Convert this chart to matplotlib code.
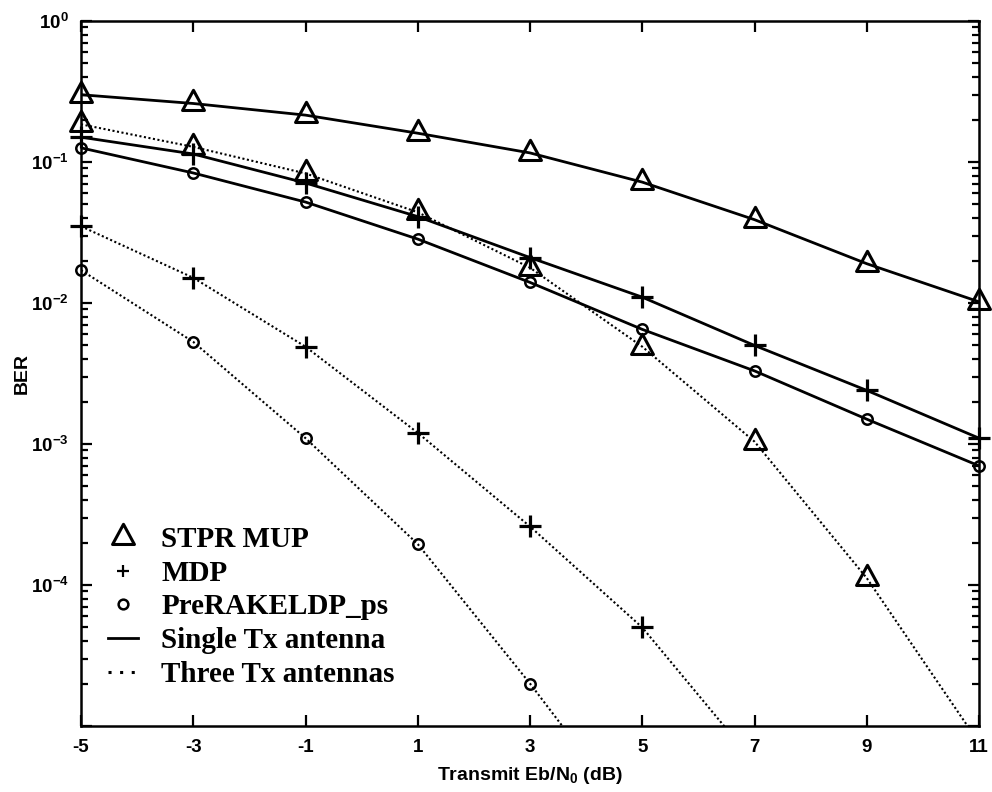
import matplotlib
matplotlib.use('Agg')
import matplotlib.pyplot as plt
from matplotlib.lines import Line2D
from matplotlib.path import Path
from matplotlib.font_manager import FontProperties
from matplotlib.ticker import FixedLocator, FixedFormatter, NullFormatter
import numpy as np

plt.rcParams['font.family'] = ['Liberation Sans', 'DejaVu Sans']
plt.rcParams['font.weight'] = 'bold'
plt.rcParams['mathtext.fontset'] = 'custom'
plt.rcParams['mathtext.rm'] = 'Liberation Sans:bold'
plt.rcParams['mathtext.bf'] = 'Liberation Sans:bold'
plt.rcParams['mathtext.it'] = 'Liberation Sans:bold'
plt.rcParams['axes.unicode_minus'] = False

# ---------------- data ----------------
snr = [-5, -3, -1, 1, 3, 5, 7, 9, 11]
stpr_single = [0.30, 0.26, 0.215, 0.16, 0.116, 0.072, 0.039, 0.019, 0.0102]
mdp_single = [0.150, 0.114, 0.071, 0.041, 0.021, 0.011, 0.0050, 0.0024, 0.0011]
pre_single = [0.126, 0.0836, 0.052, 0.0284, 0.014, 0.0065, 0.0033, 0.0015, 0.0007]
stpr_three = [0.185, 0.128, 0.083, 0.044, 0.0178, 0.0049, 0.00104, 0.000112, 7.6e-6]
mdp_three = [0.035, 0.0151, 0.0049, 0.0012, 0.00026, 5.0e-5, 5.5e-6]
pre_three = [0.0171, 0.0053, 0.0011, 0.000195, 2.0e-5, 1.8e-6]

xticks = [-5, -3, -1, 1, 3, 5, 7, 9, 11]
xticklabels = ['-5', '-3', '-1', '1', '3', '5', '7', '9', '11']
yticks = [1e0, 1e-1, 1e-2, 1e-3, 1e-4, 1e-5]
yticklabels = [r'$10^{0}$', r'$10^{-1}$', r'$10^{-2}$', r'$10^{-3}$', r'$10^{-4}$', '']
legend_labels = ['STPR MUP', 'MDP', 'PreRAKELDP_ps', 'Single Tx antenna', 'Three Tx antennas']

YMIN, YMAX = 1e-5, 1e0

# triangle marker centred on its centroid (like MATLAB)
tri = Path([(0, 1), (-0.83, -0.53), (0.83, -0.53), (0, 1)],
           [Path.MOVETO, Path.LINETO, Path.LINETO, Path.CLOSEPOLY])

fig = plt.figure(figsize=(9.92, 7.92), dpi=100)
ax = fig.add_axes([81/992, 1-726/792, (979-81)/992, (726-21)/792])

solid = dict(color='k', lw=2.0, ls='-')
dotted = dict(color='k', lw=1.5, ls=(0, (1, 1.2)))
tri_kw = dict(marker=tri, ms=19, mew=2.2, mfc='none', mec='k')
plus_kw = dict(marker='+', ms=16, mew=2.3, mec='k')
circ_kw = dict(marker='o', ms=7.5, mew=1.8, mfc='none', mec='k')

series = [
    (snr, stpr_single, solid, tri_kw),
    (snr, mdp_single, solid, plus_kw),
    (snr, pre_single, solid, circ_kw),
    (snr, stpr_three, dotted, tri_kw),
    (snr[:len(mdp_three)], mdp_three, dotted, plus_kw),
    (snr[:len(pre_three)], pre_three, dotted, circ_kw),
]
for xs, ys, lkw, mkw in series:
    ax.semilogy(xs, ys, **lkw)
    xs_v = [a for a, b in zip(xs, ys) if b >= YMIN]
    ys_v = [b for b in ys if b >= YMIN]
    ax.semilogy(xs_v, ys_v, ls='none', clip_on=False, zorder=3, **mkw)

ax.set_xlim(-5, 11)
ax.set_ylim(YMIN, YMAX)
ax.xaxis.set_major_locator(FixedLocator(xticks))
ax.xaxis.set_major_formatter(FixedFormatter(xticklabels))
ax.yaxis.set_major_locator(FixedLocator(yticks))
ax.yaxis.set_major_formatter(FixedFormatter(yticklabels))
minors = [m * 10.0**e for e in range(-5, 0) for m in range(2, 10)]
ax.yaxis.set_minor_locator(FixedLocator(minors))
ax.yaxis.set_minor_formatter(NullFormatter())

ax.tick_params(which='both', direction='in', top=True, right=True, width=1.6,
               labelsize=13.5)
ax.tick_params(which='major', length=8, pad=9)
ax.tick_params(which='minor', length=5)
ax.tick_params(axis='x', which='minor', top=False, bottom=False)
for s in ax.spines.values():
    s.set_linewidth(1.8)

ax.set_xlabel(r'Transmit Eb/N$_{0}$ (dB)', fontsize=14, fontweight='bold', labelpad=7)
ax.set_ylabel('BER', fontsize=14, fontweight='bold', labelpad=0)

handles = [
    Line2D([], [], ls='none', marker=tri, ms=19, mew=2.2, mfc='none', mec='k'),
    Line2D([], [], ls='none', marker='+', ms=9, mew=1.6, mec='k'),
    Line2D([], [], ls='none', marker='o', ms=7, mew=1.8, mfc='none', mec='k'),
    Line2D([], [], color='k', lw=2.0),
    Line2D([], [], color='k', lw=2.2, ls=(0, (1, 2.8))),
]
leg = ax.legend(handles, legend_labels, loc='upper left',
                bbox_to_anchor=(108/992, 1-526/792), bbox_transform=fig.transFigure,
                frameon=False, numpoints=1,
                prop=FontProperties(family='Liberation Serif', weight='bold', size=21),
                handlelength=1.03, handletextpad=0.8, labelspacing=0.23,
                borderpad=0, borderaxespad=0)

fig.savefig('out.png', dpi=100)
